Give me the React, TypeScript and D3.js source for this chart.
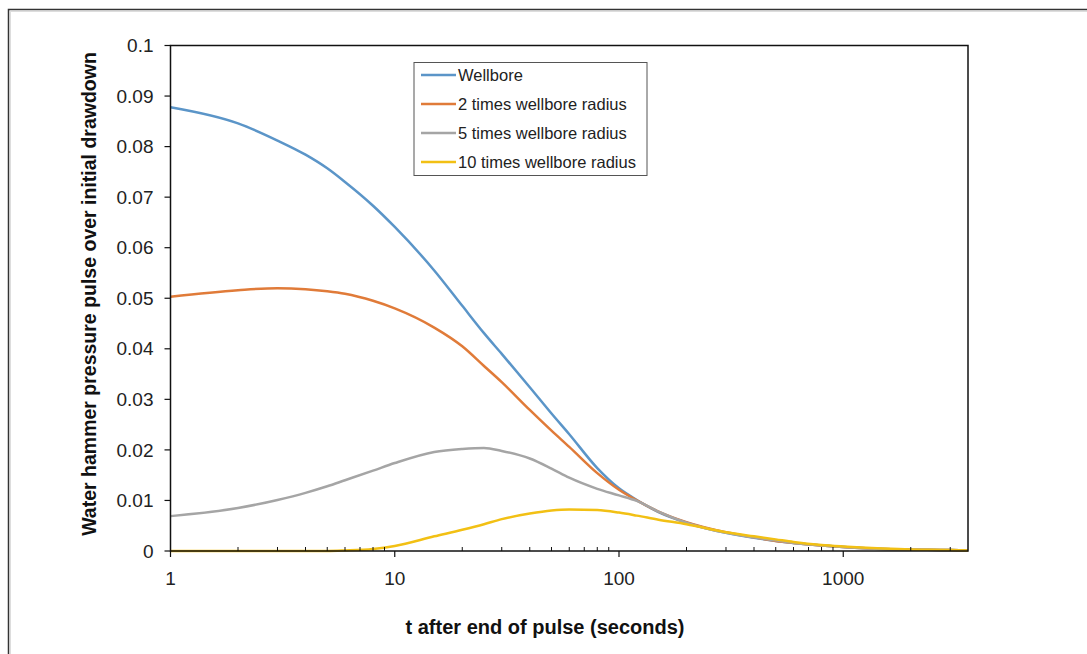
import React from 'react';
import * as d3 from 'd3';

// time after end of pulse (s)
const times = [1, 2, 3, 4, 5, 6, 8, 10, 15, 20, 25, 30, 40, 50, 60, 80, 100, 120, 150, 200, 300, 400, 500, 600, 800, 1000, 1500, 2000, 3000, 3600];

const wellbore = [0.0878, 0.0846, 0.0812, 0.0784, 0.0757, 0.073, 0.0683, 0.0641, 0.0555, 0.0485, 0.0431, 0.039, 0.0324, 0.0272, 0.0231, 0.0164, 0.0124, 0.0101, 0.0077, 0.0056, 0.0036, 0.0026, 0.002, 0.0016, 0.0011, 0.0008, 0.0004, 0.0003, 0.0002, 0.0001];
const times2 = [0.0503, 0.0516, 0.052, 0.0518, 0.0514, 0.0509, 0.0495, 0.048, 0.0442, 0.0405, 0.0366, 0.0334, 0.0279, 0.0238, 0.0206, 0.0154, 0.0121, 0.01, 0.0078, 0.0057, 0.0037, 0.0027, 0.002, 0.0016, 0.0011, 0.0008, 0.0004, 0.0003, 0.0002, 0.0001];
const times5 = [0.0069, 0.0085, 0.0101, 0.0115, 0.0128, 0.014, 0.0159, 0.0174, 0.0196, 0.0202, 0.0204, 0.0198, 0.0183, 0.0163, 0.0145, 0.0123, 0.011, 0.0099, 0.0078, 0.0056, 0.0036, 0.0027, 0.0021, 0.0016, 0.0011, 0.0008, 0.0004, 0.0003, 0.0002, 0.0001];
const times10 = [0, 0, 0, 0, 0, 0.0001, 0.0004, 0.001, 0.0029, 0.0042, 0.0053, 0.0063, 0.0074, 0.008, 0.0082, 0.0081, 0.0076, 0.007, 0.0062, 0.0053, 0.0037, 0.0029, 0.0023, 0.0018, 0.0012, 0.0009, 0.0005, 0.0003, 0.0002, 0.0001];

const seriesNames = ['Wellbore', '2 times wellbore radius', '5 times wellbore radius', '10 times wellbore radius'];
const seriesValues = [wellbore, times2, times5, times10];
const seriesColors = ['#5b95c8', '#e07b39', '#a5a5a5', '#f2c014'];

const yTicks = [0, 0.01, 0.02, 0.03, 0.04, 0.05, 0.06, 0.07, 0.08, 0.09, 0.1];
const xMajor = [1, 10, 100, 1000];

const W = 1087;
const H = 654;
const plot = { left: 170.5, right: 968, top: 45.5, bottom: 551 };
const font = '"Liberation Sans", Arial, sans-serif';

export default function App() {
  const x = d3.scaleLog().domain([1, 3600]).range([plot.left, plot.right]);
  const y = d3.scaleLinear().domain([0, 0.1]).range([plot.bottom, plot.top]);

  const line = d3
    .line<[number, number]>()
    .x((d) => x(d[0]))
    .y((d) => y(d[1]))
    .curve(d3.curveMonotoneX);

  // minor ticks for log axis
  const minor: number[] = [];
  [1, 10, 100, 1000].forEach((dec) => {
    for (let k = 2; k <= 9; k++) {
      const v = dec * k;
      if (v < 3600) minor.push(v);
    }
  });

  const legend = { x: 414, y: 62.5, w: 233, h: 113 };

  return (
    <svg width={W} height={H} style={{ position: 'absolute', left: 0, top: 0, background: '#fff' }} fontFamily={font}>
      {/* outer frame */}
      <rect x={8.5} y={9.5} width={1200} height={800} fill="none" stroke="#333" strokeWidth={1.5} />
      <rect x={10.5} y={11.5} width={1200} height={800} fill="none" stroke="#ddd" strokeWidth={1} />

      {/* series */}
      <g>
        {seriesValues.map((vals, i) => (
          <path
            key={seriesNames[i]}
            d={line(times.map((t, j) => [t, vals[j]] as [number, number])) || ''}
            fill="none"
            stroke={seriesColors[i]}
            strokeWidth={2.5}
          />
        ))}
      </g>

      {/* plot border */}
      <rect
        x={plot.left}
        y={plot.top}
        width={plot.right - plot.left}
        height={plot.bottom - plot.top}
        fill="none"
        stroke="#111"
        strokeWidth={1.5}
      />

      {/* y axis */}
      <g>
        {yTicks.map((v) => (
          <g key={v}>
            <line x1={plot.left - 6} x2={plot.left} y1={y(v)} y2={y(v)} stroke="#111" strokeWidth={1.2} />
            <text x={plot.left - 17} y={y(v)} dy="0.35em" textAnchor="end" fontSize={19} fill="#222">
              {d3.format('~g')(v)}
            </text>
          </g>
        ))}
      </g>

      {/* x axis */}
      <g>
        {minor.map((v) => (
          <line key={v} x1={x(v)} x2={x(v)} y1={plot.bottom} y2={plot.bottom - 4} stroke="#111" strokeWidth={1} />
        ))}
        {xMajor.map((v) => (
          <g key={v}>
            <line x1={x(v)} x2={x(v)} y1={plot.bottom} y2={plot.bottom + 6} stroke="#111" strokeWidth={1.2} />
            <text x={x(v)} y={plot.bottom + 27} dy="0.35em" textAnchor="middle" fontSize={19} fill="#222">
              {v}
            </text>
          </g>
        ))}
      </g>

      {/* axis titles */}
      <text x={545} y={627} dy="0.35em" textAnchor="middle" fontSize={20} fontWeight="bold" fill="#111">
        t after end of pulse (seconds)
      </text>
      <text
        transform={`translate(89, 294) rotate(-90)`}
        textAnchor="middle"
        dy="0.35em"
        fontSize={19.5}
        fontWeight="bold"
        fill="#111"
      >
        Water hammer  pressure pulse over initial drawdown
      </text>

      {/* legend */}
      <rect x={legend.x} y={legend.y} width={legend.w} height={legend.h} fill="#fff" stroke="#555" strokeWidth={1} />
      {seriesNames.map((name, i) => {
        const cy = 75 + i * 29;
        return (
          <g key={name}>
            <line x1={421} x2={456} y1={cy} y2={cy} stroke={seriesColors[i]} strokeWidth={2.5} />
            <text x={458} y={cy} dy="0.35em" fontSize={16.5} fill="#222">
              {name}
            </text>
          </g>
        );
      })}
    </svg>
  );
}
